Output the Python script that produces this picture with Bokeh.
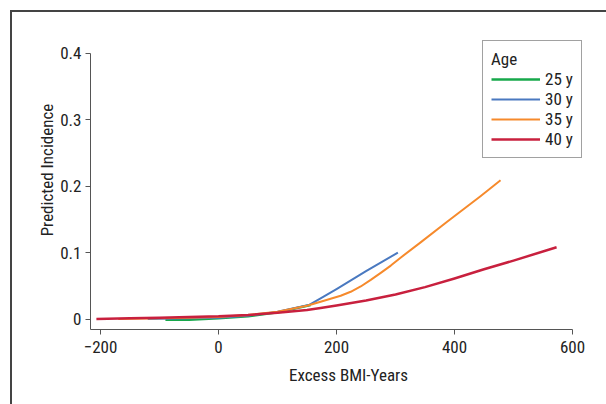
from bokeh.plotting import figure
from bokeh.models import Legend, LegendItem, Range1d, InlineStyleSheet
from bokeh.embed import file_html
from bokeh.resources import INLINE

# Data
x25 = [-90, -50, 0, 50, 100, 156]
y25 = [-0.001, -0.001, 0.001, 0.004, 0.010, 0.021]

x30 = [-120, -50, 0, 50, 100, 153, 173, 200, 250, 304]
y30 = [0.000, 0.001, 0.002, 0.005, 0.011, 0.021, 0.031, 0.045, 0.072, 0.100]

x35 = [-170, -100, -50, 0, 50, 100, 150, 173, 207, 224, 241, 258, 275, 292, 308, 342, 388, 444, 478]
y35 = [0.000, 0.001, 0.002, 0.003, 0.006, 0.011, 0.020, 0.026, 0.035, 0.041, 0.049, 0.059, 0.0695, 0.0805, 0.092, 0.115, 0.147, 0.185, 0.209]

x40 = [-207, -150, -100, -50, 0, 50, 100, 150, 173, 200, 250, 300, 350, 400, 450, 500, 573]
y40 = [0.000, 0.001, 0.002, 0.003, 0.004, 0.006, 0.0095, 0.0135, 0.0165, 0.0205, 0.028, 0.037, 0.048, 0.061, 0.075, 0.088, 0.108]

x_ticks = [-200, 0, 200, 400, 600]
x_tick_labels = ["\u2212200", "0", "200", "400", "600"]
y_ticks = [0, 0.1, 0.2, 0.3, 0.4]
y_tick_labels = ["0", "0.1", "0.2", "0.3", "0.4"]

series_names = ["25 y", "30 y", "35 y", "40 y"]
colors = ["#17a84b", "#4a79c0", "#f68a2c", "#c8203e"]

FONT = "'Roboto Condensed', 'DejaVu Sans Condensed', 'Liberation Sans Narrow', Roboto, sans-serif"
TXT = "#222222"
AX = "#555555"
FS = "17px"

border_css = InlineStyleSheet(css="""
:host { position: relative; overflow: hidden; }
:host::after { content: ''; position: absolute; left: 10px; top: 10px;
  width: 900px; height: 700px; border-left: 2px solid #444; border-top: 2px solid #444;
  pointer-events: none; z-index: 10; }
""")

p = figure(width=606, height=404, output_backend="svg", toolbar_location=None,
           x_range=Range1d(-217, 657.6), y_range=Range1d(-0.0158, 0.4647),
           min_border_left=90, min_border_right=0, min_border_top=10, min_border_bottom=75,
           stylesheets=[border_css])
p.outline_line_color = None
p.grid.grid_line_color = None
p.background_fill_color = "white"
p.border_fill_color = "white"

renderers = []
for xs, ys, c, w in [(x25, y25, colors[0], 2.5), (x30, y30, colors[1], 2),
                     (x35, y35, colors[2], 2), (x40, y40, colors[3], 2.5)]:
    renderers.append(p.line(xs, ys, line_color=c, line_width=w, line_join="round"))

for ax in (p.xaxis[0], p.yaxis[0]):
    ax.axis_line_color = AX
    ax.major_tick_line_color = AX
    ax.minor_tick_line_color = None
    ax.major_tick_in = 0
    ax.major_tick_out = 5
    ax.major_label_text_font = FONT
    ax.major_label_text_font_size = FS
    ax.major_label_text_color = TXT
    ax.axis_label_text_font = FONT
    ax.axis_label_text_font_size = FS
    ax.axis_label_text_font_style = "normal"
    ax.axis_label_text_color = TXT

p.xaxis.bounds = (-217, 600)
p.yaxis.bounds = (-0.0158, 0.4)
p.xaxis.ticker = x_ticks
p.xaxis.major_label_overrides = dict(zip(x_ticks, x_tick_labels))
p.yaxis.ticker = y_ticks
p.yaxis.major_label_overrides = dict(zip(y_ticks, y_tick_labels))
p.xaxis.axis_label = "Excess BMI-Years"
p.yaxis.axis_label = "Predicted Incidence"
p.xaxis.major_label_standoff = 6
p.yaxis.major_label_standoff = 4
p.xaxis.axis_label_standoff = 9
p.yaxis.axis_label_standoff = 0

legend = Legend(items=[LegendItem(label=n, renderers=[r]) for n, r in zip(series_names, renderers)],
                location=(392, 171), title="Age")
legend.title_text_font = FONT
legend.title_text_font_size = FS
legend.title_text_font_style = "normal"
legend.title_text_color = TXT
legend.title_standoff = 0
legend.label_text_font = FONT
legend.label_text_font_size = FS
legend.label_text_color = TXT
legend.padding = 8
legend.spacing = 0
legend.glyph_width = 49
legend.glyph_height = 20
legend.label_height = 20
legend.label_standoff = 5
legend.border_line_color = "#444444"
legend.border_line_width = 1.5
legend.background_fill_alpha = 1
p.add_layout(legend, "center")

open("out.html", "w").write(file_html(p, INLINE))
